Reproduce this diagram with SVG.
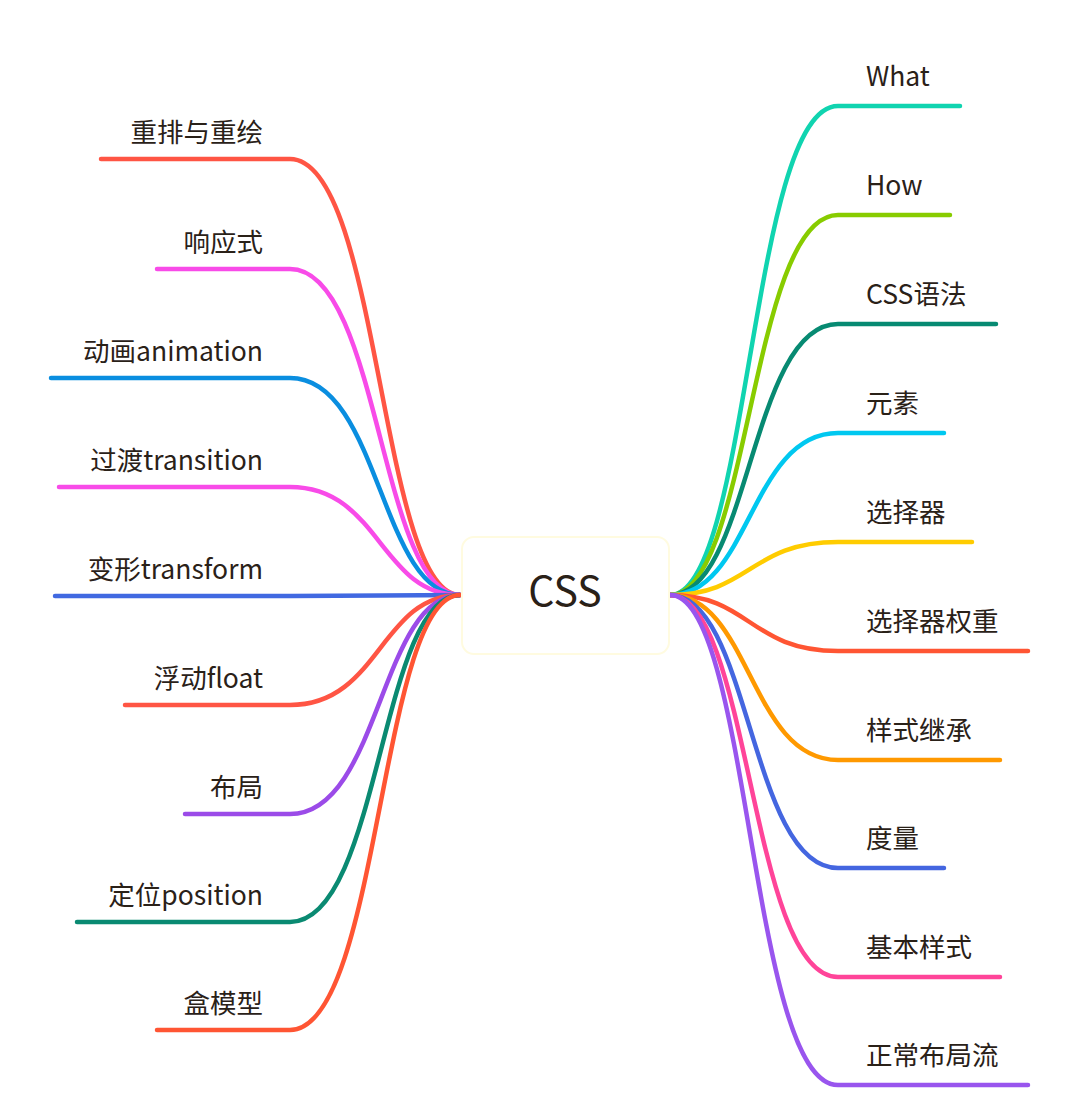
<svg xmlns="http://www.w3.org/2000/svg" width="1080" height="1110" viewBox="0 0 1080 1110">
<style>
path{fill:none;stroke-width:4.5;stroke-linecap:round}
text{font-family:"Noto Sans CJK SC","Noto Sans",sans-serif;font-size:26.5px;fill:#2a2118}
.l{text-anchor:end}
</style>
<rect width="1080" height="1110" fill="#fff"/>
<g id="connectors">
<path stroke="#ff5544" d="M460,595 C380,595 380,159 290,159 H101"/>
<path stroke="#f84be8" d="M460,595 C380,595 380,269 290,269 H157"/>
<path stroke="#0a8ee0" d="M460,595 C380,595 380,378 290,378 H51"/>
<path stroke="#f84be8" d="M460,595 C380,595 380,487 290,487 H59"/>
<path stroke="#4169e1" d="M460,595 C380,595 380,596 290,596 H55"/>
<path stroke="#ff5544" d="M460,595 C380,595 380,705 290,705 H125"/>
<path stroke="#9b4be8" d="M460,595 C380,595 380,814 290,814 H185"/>
<path stroke="#0a8a72" d="M460,595 C380,595 380,922 290,922 H77"/>
<path stroke="#ff5533" d="M460,595 C380,595 380,1030 290,1030 H157"/>
<path stroke="#10d4b0" d="M670,595 C750,595 750,106 838,106 H960"/>
<path stroke="#88cc00" d="M670,595 C750,595 750,215 838,215 H950"/>
<path stroke="#078a72" d="M670,595 C750,595 750,324 838,324 H996"/>
<path stroke="#00c8f0" d="M670,595 C750,595 750,433 838,433 H944"/>
<path stroke="#ffcc00" d="M670,595 C750,595 750,542 838,542 H972"/>
<path stroke="#ff5533" d="M670,595 C750,595 750,651 838,651 H1028"/>
<path stroke="#ff9900" d="M670,595 C750,595 750,760 838,760 H1000"/>
<path stroke="#4466e0" d="M670,595 C750,595 750,868 838,868 H944"/>
<path stroke="#ff4499" d="M670,595 C750,595 750,977 838,977 H1000"/>
<path stroke="#9955ee" d="M670,595 C750,595 750,1085 838,1085 H1028"/>
</g>
<g id="center"><rect x="462" y="537" width="207" height="117" rx="12" fill="#fff" stroke="#fffbe0" stroke-width="2"/><text x="565" y="606" text-anchor="middle" style="font-size:41px">CSS</text></g>
<g id="n1"><text class="l" x="263" y="142">重排与重绘</text></g>
<g id="n2"><text class="l" x="263" y="252">响应式</text></g>
<g id="n3"><text class="l" x="263" y="361">动画animation</text></g>
<g id="n4"><text class="l" x="263" y="470">过渡transition</text></g>
<g id="n5"><text class="l" x="263" y="579">变形transform</text></g>
<g id="n6"><text class="l" x="263" y="688">浮动float</text></g>
<g id="n7"><text class="l" x="263" y="797">布局</text></g>
<g id="n8"><text class="l" x="263" y="905">定位position</text></g>
<g id="n9"><text class="l" x="263" y="1013">盒模型</text></g>
<g id="r1"><text x="866" y="86">What</text></g>
<g id="r2"><text x="866" y="195">How</text></g>
<g id="r3"><text x="866" y="304">CSS语法</text></g>
<g id="r4"><text x="866" y="413">元素</text></g>
<g id="r5"><text x="866" y="522">选择器</text></g>
<g id="r6"><text x="866" y="631">选择器权重</text></g>
<g id="r7"><text x="866" y="740">样式继承</text></g>
<g id="r8"><text x="866" y="848">度量</text></g>
<g id="r9"><text x="866" y="957">基本样式</text></g>
<g id="r10"><text x="866" y="1065">正常布局流</text></g>
</svg>
